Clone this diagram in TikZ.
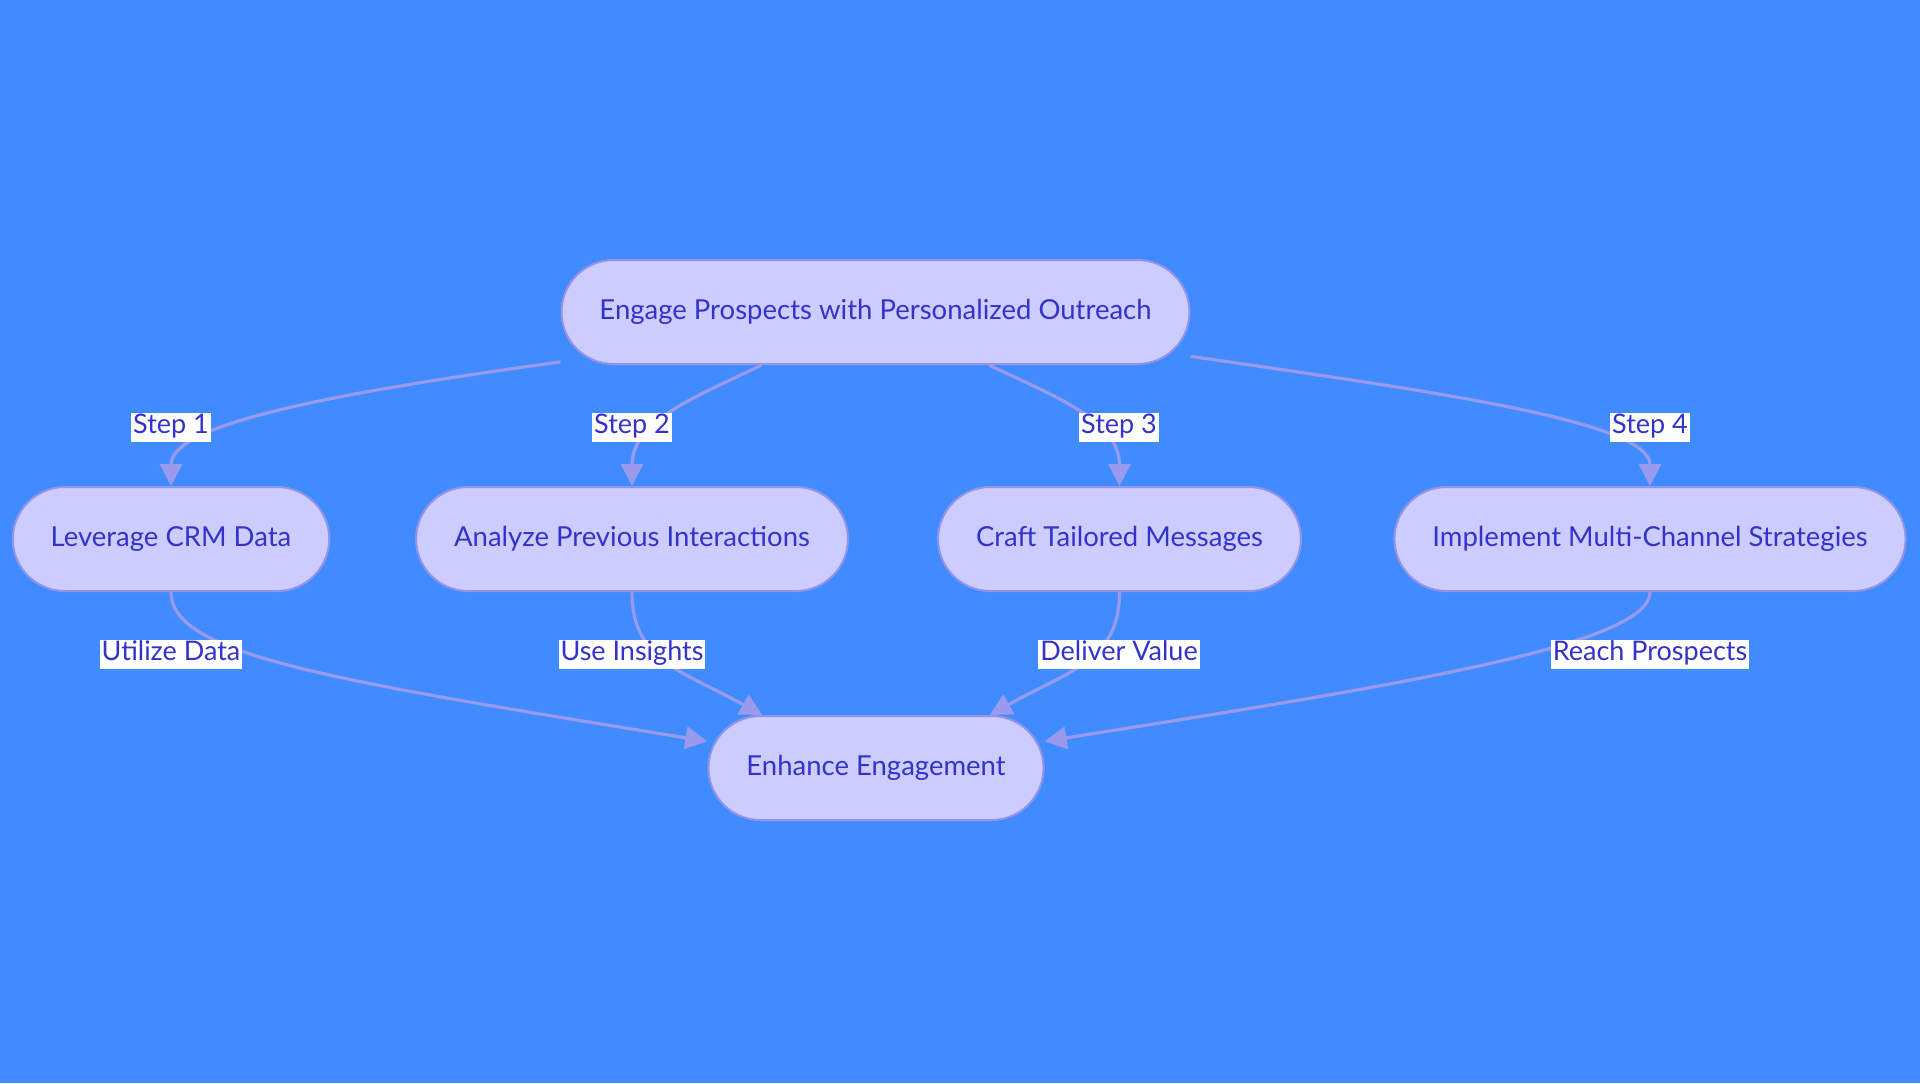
\documentclass[tikz,border=0pt]{standalone}
\usepackage{fontspec}
\setmainfont{Lato}
\usepackage{tikz}
\usetikzlibrary{arrows.meta,positioning,calc}
\definecolor{bgblue}{RGB}{64,140,255}
\definecolor{stepfill}{RGB}{204,204,255}
\definecolor{stepline}{RGB}{147,147,232}
\definecolor{steptext}{RGB}{51,51,204}
\definecolor{linkline}{RGB}{153,153,238}
\tikzset{
  flowbox/.style={draw=stepline, line width=1pt, fill=stepfill, rounded corners=26pt, minimum height=52pt, inner xsep=19pt, text=steptext, text height=10pt, text depth=3pt, font=\fontsize{13.75}{16}\selectfont},
  link/.style={-{Triangle[length=11pt, width=11pt]}, draw=linkline, line width=1.6pt},
  linklabel/.style={fill=white, text=steptext, inner xsep=1pt, inner ysep=0pt, text height=10.5pt, text depth=4pt, font=\fontsize{13.5}{16}\selectfont}
}

\begin{document}
\begin{tikzpicture}[x=0.5pt, y=-0.5pt]
  \fill[bgblue] (0,0) rectangle (1920,1083);

  \node[flowbox] (eng) at (875.5,312) {Engage Prospects with Personalized Outreach};
  \node[flowbox] (lev) at (171,539) {Leverage CRM Data};
  \node[flowbox] (ana) at (632,539) {Analyze Previous Interactions};
  \node[flowbox] (cra) at (1119.5,539) {Craft Tailored Messages};
  \node[flowbox] (imp) at (1650,539) {Implement Multi-Channel Strategies};
  \node[flowbox] (enh) at (876,768) {Enhance Engagement};

  \draw[link] (eng.189) .. controls (320,395) and (171,425) .. (lev.north);
  \draw[link] (eng.205) .. controls (700,395) and (632,420) .. (ana.north);
  \draw[link] (eng.335) .. controls (1051,395) and (1119.5,420) .. (cra.north);
  \draw[link] (eng.352) .. controls (1420,390) and (1650,420) .. (imp.north);

  \draw[link] (lev.south) .. controls (171,655) and (330,680) .. (enh.171);
  \draw[link] (ana.south) .. controls (632,660) and (680,670) .. (enh.155);
  \draw[link] (cra.south) .. controls (1119.5,660) and (1071,670) .. (enh.25);
  \draw[link] (imp.south) .. controls (1650,645) and (1400,685) .. (enh.9);

  \node[linklabel] (s1) at (171,427) {Step 1};
  \node[linklabel] (s2) at (632,427) {Step 2};
  \node[linklabel] (s3) at (1119,427) {Step 3};
  \node[linklabel] (s4) at (1650,427) {Step 4};
  \node[linklabel] (u1) at (171,654) {Utilize Data};
  \node[linklabel] (u2) at (632,654) {Use Insights};
  \node[linklabel] (u3) at (1119,654) {Deliver Value};
  \node[linklabel] (u4) at (1650,654) {Reach Prospects};
\end{tikzpicture}
\end{document}
